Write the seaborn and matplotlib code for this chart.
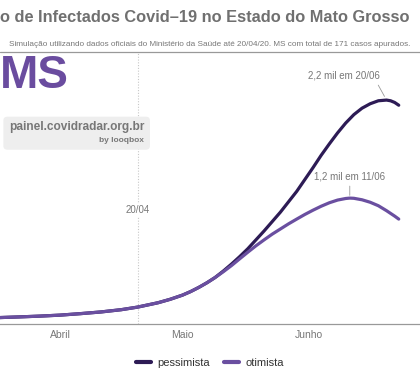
import pandas as pd
import matplotlib.pyplot as plt
import seaborn as sns
from matplotlib.patches import FancyBboxPatch

# Data
dates_p = ["2020-03-17", "2020-03-22", "2020-03-27", "2020-04-01", "2020-04-06",
           "2020-04-11", "2020-04-16", "2020-04-20", "2020-04-25", "2020-04-28",
           "2020-05-01", "2020-05-03", "2020-05-05", "2020-05-07", "2020-05-09",
           "2020-05-11", "2020-05-13", "2020-05-15", "2020-05-17", "2020-05-19",
           "2020-05-21", "2020-05-23", "2020-05-25", "2020-05-27", "2020-05-29",
           "2020-05-31", "2020-06-02", "2020-06-04", "2020-06-06", "2020-06-08",
           "2020-06-10", "2020-06-12", "2020-06-14", "2020-06-16", "2020-06-18",
           "2020-06-20", "2020-06-21", "2020-06-22", "2020-06-23"]
pessimista = [5, 12, 20, 30, 45, 62, 85, 111, 155, 190,
              232, 268, 310, 357, 410,
              475, 545, 620, 700, 790,
              880, 975, 1070, 1175, 1280,
              1400, 1520, 1645, 1760, 1870,
              1970, 2055, 2120, 2165, 2195,
              2202, 2195, 2178, 2150]

dates_o = ["2020-03-17", "2020-03-22", "2020-03-27", "2020-04-01", "2020-04-06",
           "2020-04-11", "2020-04-16", "2020-04-20", "2020-04-25", "2020-04-28",
           "2020-05-01", "2020-05-03", "2020-05-05", "2020-05-07", "2020-05-09",
           "2020-05-11", "2020-05-13", "2020-05-15", "2020-05-17", "2020-05-19",
           "2020-05-21", "2020-05-23", "2020-05-25", "2020-05-27", "2020-05-29",
           "2020-05-31", "2020-06-02", "2020-06-04", "2020-06-06", "2020-06-08",
           "2020-06-10", "2020-06-11", "2020-06-12", "2020-06-14", "2020-06-16",
           "2020-06-18", "2020-06-20", "2020-06-22", "2020-06-23"]
otimista = [5, 12, 20, 30, 45, 62, 85, 111, 155, 190,
            232, 268, 310, 357, 410,
            468, 530, 598, 665, 730,
            790, 848, 900, 952, 1000,
            1047, 1090, 1130, 1165, 1192,
            1208, 1212, 1210, 1195, 1170,
            1135, 1085, 1030, 1000]

tick_dates = ["2020-04-01", "2020-05-01", "2020-06-01"]
tick_labels = ["Abril", "Maio", "Junho"]

df = pd.concat([
    pd.DataFrame({"Data": pd.to_datetime(dates_p), "Casos": pessimista, "Cenario": "pessimista"}),
    pd.DataFrame({"Data": pd.to_datetime(dates_o), "Casos": otimista, "Cenario": "otimista"}),
])

dark = "#2d1b55"
light = "#6a4fa0"
grey = "#777777"

sns.set_style("white")
plt.rcParams["font.family"] = ["Liberation Sans", "DejaVu Sans"]

fig = plt.figure(figsize=(4.2, 3.8), dpi=100)
ax = fig.add_axes([0, 0.147, 1, 0.716])

sns.lineplot(data=df, x="Data", y="Casos", hue="Cenario",
             palette={"pessimista": dark, "otimista": light},
             linewidth=2.3, ax=ax, legend=False)
for ln in ax.lines:
    ln.set_solid_capstyle("round")
    ln.set_solid_joinstyle("round")

ax.set_xlim(pd.Timestamp("2020-03-17 07:00"), pd.Timestamp("2020-06-28 05:00"))
ax.set_ylim(-61, 2687)
ax.set_xlabel("")
ax.set_ylabel("")
ax.set_yticks([])
ax.set_xticks(pd.to_datetime(tick_dates))
ax.set_xticklabels(tick_labels, color=grey, fontsize=7.5)
ax.tick_params(axis="x", direction="in", length=5, width=0.8, color="#999999", pad=4)
for side in ["top", "left", "right"]:
    ax.spines[side].set_visible(False)
ax.spines["bottom"].set_color("#999999")
ax.spines["bottom"].set_linewidth(0.9)

# 20/04 reference line
ref = pd.Timestamp("2020-04-20")
ax.axvline(ref, color="#c8c8c8", lw=0.8, ls=(0, (1, 1.5)), zorder=0)
ax.text(ref, 1090, "20/04", ha="center", va="center", fontsize=7, color=grey,
        bbox=dict(facecolor="white", edgecolor="none", pad=1))

# peak annotations
i_p = pessimista.index(max(pessimista))
ax.annotate("2,2 mil em 20/06", xy=(pd.Timestamp(dates_p[i_p]), pessimista[i_p]),
            xytext=(-31, 14), textcoords="offset points", ha="center", va="bottom",
            fontsize=7, color=grey,
            arrowprops=dict(arrowstyle="-", color="#999999", lw=0.6,
                            relpos=(0.95, 0), shrinkA=1, shrinkB=3))
i_o = otimista.index(max(otimista))
ax.annotate("1,2 mil em 11/06", xy=(pd.Timestamp(dates_o[i_o]), otimista[i_o]),
            xytext=(0, 12), textcoords="offset points", ha="center", va="bottom",
            fontsize=7, color=grey,
            arrowprops=dict(arrowstyle="-", color="#999999", lw=0.6,
                            relpos=(0.5, 0), shrinkA=1, shrinkB=2))

# header
fig.text(0.488, 0.955, "o de Infectados Covid\u201319 no Estado do Mato Grosso",
         ha="center", va="center", fontsize=11.8, fontweight="bold", color="#707070")
fig.text(0.5, 0.882, "Simula\u00e7\u00e3o utilizando dados oficiais do Minist\u00e9rio da Sa\u00fade "
         "at\u00e9 20/04/20. MS com total de 171 casos apurados.",
         ha="center", va="center", fontsize=5.85, color=grey)
fig.add_artist(plt.Line2D([0, 1], [0.863, 0.863], color="#999999", lw=0.9,
                          transform=fig.transFigure))

fig.text(0.0, 0.8, "MS", ha="left", va="center", fontsize=33, fontweight="bold",
         color="#6a4c9f")

box = FancyBboxPatch((0.008, 0.606), 0.349, 0.087, boxstyle="round,pad=0,rounding_size=0.01",
                     transform=fig.transFigure, facecolor="#eeeeee", edgecolor="none")
fig.add_artist(box)
fig.text(0.343, 0.665, "painel.covidradar.org.br", ha="right", va="center",
         fontsize=8.6, fontweight="bold", color="#777777")
fig.text(0.343, 0.629, "by looqbox", ha="right", va="center",
         fontsize=6, fontweight="bold", color="#777777")

# legend
handles = [plt.Line2D([], [], color=dark, lw=3), plt.Line2D([], [], color=light, lw=3)]
fig.legend(handles, ["pessimista", "otimista"], loc="center", bbox_to_anchor=(0.5, 0.045),
           ncol=2, frameon=False, fontsize=8, handlelength=1.4, columnspacing=1.2,
           handletextpad=0.6, labelcolor="#333333")

fig.savefig("out.png", dpi=100)
